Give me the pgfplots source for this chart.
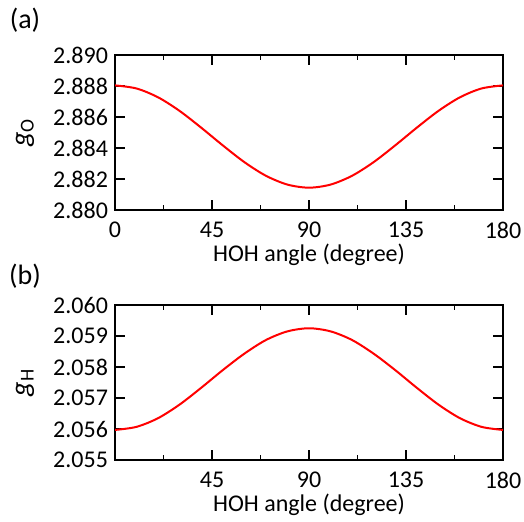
\documentclass[border=0pt]{standalone}
\usepackage{fontspec}
\setmainfont{Carlito}
\usepackage{pgfplots}
\pgfplotsset{compat=1.18}

\pgfplotsset{
  hohstyle/.style={
    scale only axis,
    width=194pt, height=77.5pt,
    xmin=0, xmax=180,
    xtick={0,45,90,135,180},
    minor x tick num=1,
    axis line style={line width=1pt},
    every tick/.style={black, line width=0.8pt},
    major tick length=5pt,
    minor tick length=2.5pt,
    tick align=inside,
    ticklabel style={font=\fontsize{12}{14}\selectfont},
    xticklabel style={yshift=-2.5pt},
    label style={font=\fontsize{12}{14}\selectfont},
    /pgf/number format/assume math mode=true,
    yticklabel style={/pgf/number format/.cd, fixed, fixed zerofill, precision=3},
    scaled y ticks=false,
    xlabel={HOH angle (degree)},
    xlabel style={at={(axis description cs:0.5,-0.287)}, anchor=center},
    ylabel style={at={(axis description cs:-0.232,0.5)}, anchor=center,
                  font=\fontsize{14}{16}\selectfont},
  },
}

\begin{document}
\begin{tikzpicture}
\path[use as bounding box] (-57.5pt,-155.5pt) rectangle (204.5pt,105pt);
\begin{axis}[hohstyle,
    ymin=2.880, ymax=2.890,
    ytick={2.880,2.882,2.884,2.886,2.888,2.890},
    ylabel={\textit{g}\textsubscript{O}},
]
\addplot[red, line width=1pt, smooth] coordinates {
(0,2.88804) (10,2.88784) (20,2.88727) (30,2.88639) (40,2.88531)
(50,2.88417) (60,2.88309) (70,2.88221) (80,2.88164) (90,2.88144)
(100,2.88164) (110,2.88221) (120,2.88309) (130,2.88417) (140,2.88531)
(150,2.88639) (160,2.88727) (170,2.88784) (180,2.88804)
};
\end{axis}

\begin{axis}[hohstyle, at={(0,-125pt)},
    ymin=2.055, ymax=2.060,
    ytick={2.055,2.056,2.057,2.058,2.059,2.060},
    xticklabels={,45,90,135,180},
    ylabel={\textit{g}\textsubscript{H}},
]
\addplot[red, line width=1pt, smooth] coordinates {
(0,2.05597) (10,2.05607) (20,2.05635) (30,2.05679) (40,2.05733)
(50,2.05790) (60,2.05843) (70,2.05887) (80,2.05915) (90,2.05925)
(100,2.05915) (110,2.05887) (120,2.05843) (130,2.05790) (140,2.05733)
(150,2.05679) (160,2.05635) (170,2.05607) (180,2.05597)
};
\end{axis}

\node[font=\fontsize{14}{16}\selectfont] at (-45pt,95pt) {(a)};
\node[font=\fontsize{14}{16}\selectfont] at (-45pt,-33pt) {(b)};
\end{tikzpicture}
\end{document}
